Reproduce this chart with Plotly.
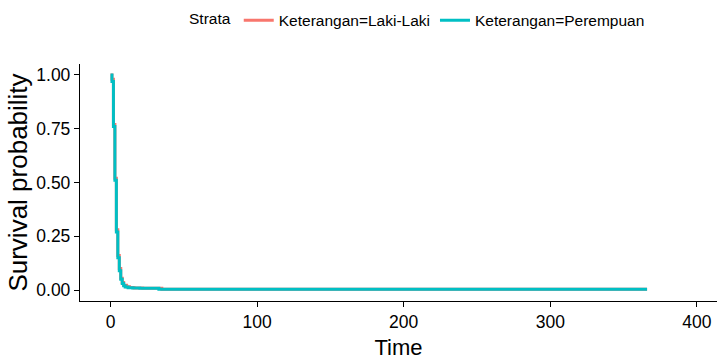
import plotly.graph_objects as go

# Kaplan-Meier step estimates by group
time_laki = [0, 1, 2, 3, 4, 5, 6, 7, 8, 9, 11, 13, 16, 22, 35, 366]
surv_laki = [1.0, 0.98, 0.77, 0.52, 0.28, 0.16, 0.10, 0.055, 0.035, 0.022,
             0.015, 0.012, 0.010, 0.008, 0.004, 0.004]

time_perempuan = [0, 1, 2, 3, 4, 5, 6, 7, 8, 9, 10, 12, 15, 20, 33, 366]
surv_perempuan = [1.0, 0.97, 0.76, 0.51, 0.27, 0.15, 0.09, 0.05, 0.03, 0.02,
                  0.014, 0.011, 0.009, 0.008, 0.004, 0.004]

x_ticks = [0, 100, 200, 300, 400]
y_ticks = [0.0, 0.25, 0.5, 0.75, 1.0]
y_tick_text = ["0.00", "0.25", "0.50", "0.75", "1.00"]

font_family = "Liberation Sans, Arial, sans-serif"

fig = go.Figure()
fig.add_trace(go.Scatter(
    x=time_laki, y=surv_laki, mode="lines", name="Keterangan=Laki-Laki",
    line=dict(color="#F8766D", width=3, shape="hv"),
))
fig.add_trace(go.Scatter(
    x=time_perempuan, y=surv_perempuan, mode="lines", name="Keterangan=Perempuan",
    line=dict(color="#00BFC4", width=3, shape="hv"),
))

axis_common = dict(
    showgrid=False, zeroline=False, showline=True, linecolor="black", linewidth=1.3,
    ticks="outside", ticklen=5, tickwidth=1.2, tickcolor="black",
    tickfont=dict(family=font_family, size=17.5, color="black"),
)

fig.update_layout(
    width=717, height=362,
    margin=dict(l=80, r=0, t=64, b=61),
    paper_bgcolor="white", plot_bgcolor="white",
    xaxis=dict(range=[-20.8, 413.7], tickvals=x_ticks,
               title=dict(text="Time", font=dict(family=font_family, size=22, color="black"),
                          standoff=8),
               **axis_common),
    yaxis=dict(range=[-0.051, 1.051], tickvals=y_ticks, ticktext=y_tick_text,
               title=dict(text="Survival probability",
                          font=dict(family=font_family, size=26, color="black"),
                          standoff=1),
               **axis_common),
    legend=dict(
        orientation="h", xref="paper", yref="container",
        x=0.168, xanchor="left", y=0.99, yanchor="top",
        title=dict(text="Strata", side="left",
                   font=dict(family=font_family, size=15.5, color="black")),
        font=dict(family=font_family, size=15.5, color="black"),
        bgcolor="rgba(0,0,0,0)",
    ),
    showlegend=True,
)

fig.write_html("out.html")
